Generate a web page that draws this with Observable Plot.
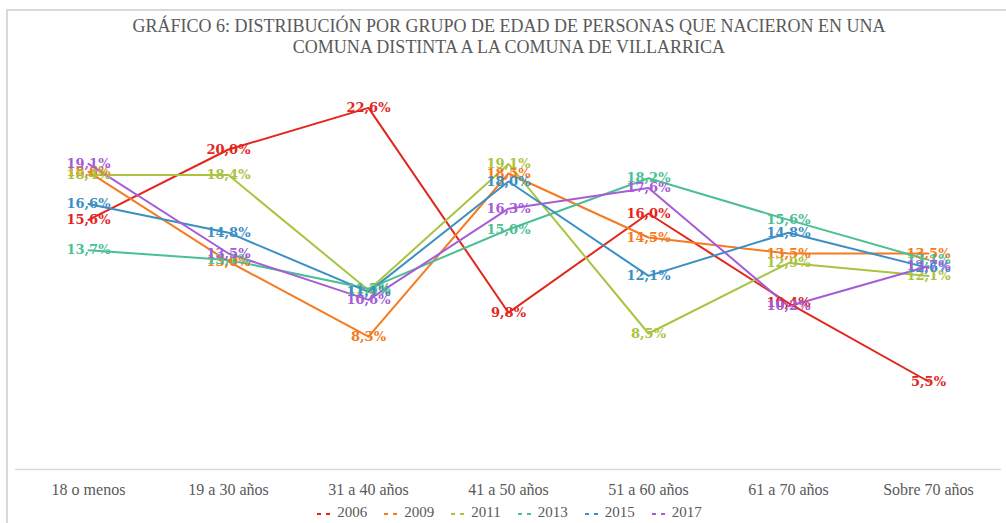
<!DOCTYPE html>
<html>
<head>
<meta charset="utf-8">
<script src="https://cdn.jsdelivr.net/npm/d3@7"></script>
<script src="https://cdn.jsdelivr.net/npm/@observablehq/plot@0.6"></script>
<style>
  html, body { margin: 0; padding: 0; background: #fff; }
  #frame { position: absolute; left: 6px; top: 9px; width: 1006px; height: 520px;
           border-left: 2px solid #d9d9d9; border-top: 2px solid #d9d9d9; }
  #title { position: absolute; left: 0; top: 16px; width: 1018px; text-align: center;
           font-family: "Liberation Serif", serif; font-size: 18px; line-height: 21px; color: #595959; }
  #chart { position: absolute; left: 0; top: 62px; }
  #legend { position: absolute; left: 0; top: 504px; width: 1018px; text-align: center;
            font-family: "Liberation Serif", serif; font-size: 15px; color: #595959; }
  .item { display: inline-block; margin: 0 8px; white-space: nowrap; }
  .item svg { vertical-align: middle; margin-right: 1px; }
</style>
</head>
<body>
<div id="frame"></div>
<div id="title">GRÁFICO 6: DISTRIBUCIÓN POR GRUPO DE EDAD DE PERSONAS QUE NACIERON EN UNA<br>COMUNA DISTINTA A LA COMUNA DE VILLARRICA</div>
<div id="chart"></div>
<div id="legend"></div>
<script>
const categories = ["18 o menos", "19 a 30 años", "31 a 40 años", "41 a 50 años", "51 a 60 años", "61 a 70 años", "Sobre 70 años"];
const years = ["2006", "2009", "2011", "2013", "2015", "2017"];
const v2006 = [15.6, 20.0, 22.6, 9.8, 16.0, 10.4, 5.5];
const v2009 = [18.6, 13.0, 8.3, 18.5, 14.5, 13.5, 13.5];
const v2011 = [18.4, 18.4, 11.2, 19.1, 8.5, 12.9, 12.1];
const v2013 = [13.7, 13.1, 11.3, 15.0, 18.2, 15.6, 13.1];
const v2015 = [16.6, 14.8, 11.1, 18.0, 12.1, 14.8, 12.6];
const v2017 = [19.1, 13.5, 10.6, 16.3, 17.6, 10.2, 12.7];

const seriesColors = ["#e3261c", "#f47b20", "#a9c43f", "#4cbf94", "#3a8fc5", "#a65cd8"];
const series = [v2006, v2009, v2011, v2013, v2015, v2017];

const rows = years.flatMap((yr, i) => series[i].map((v, j) => ({year: yr, cat: categories[j], value: v})));
const fmt = v => v.toFixed(1).replace(".", ",") + "%";

const chart = Plot.plot({
  width: 1006,
  height: 440,
  marginLeft: 15,
  marginRight: 5,
  marginTop: 7,
  marginBottom: 33,
  x: {type: "point", domain: categories, padding: 0.5, label: null},
  y: {domain: [0, 25], axis: null},
  color: {domain: years, range: seriesColors},
  style: {fontFamily: "Liberation Serif, serif", fontSize: "15px", color: "#595959", background: "transparent"},
  marks: [
    Plot.ruleY([0], {stroke: "#d9d9d9", strokeWidth: 1.5}),
    Plot.line(rows, {x: "cat", y: "value", z: "year", stroke: "year", strokeWidth: 2}),
    Plot.text(rows, {x: "cat", y: "value", text: d => fmt(d.value), fill: "year",
      fontWeight: "bold", fontFamily: "DejaVu Serif, serif", fontSize: 13}),
    Plot.axisX({tickSize: 0, tickPadding: 14, fontSize: 16, fill: "#595959", label: null})
  ]
});
document.getElementById("chart").appendChild(chart);

const legend = document.getElementById("legend");
years.forEach((yr, i) => {
  const span = document.createElement("span");
  span.className = "item";
  span.innerHTML = `<svg width="20" height="10"><line x1="1" y1="5" x2="19" y2="5" stroke="${seriesColors[i]}" stroke-width="2" stroke-dasharray="4,5"/></svg>${yr}`;
  legend.appendChild(span);
});
</script>
</body>
</html>
